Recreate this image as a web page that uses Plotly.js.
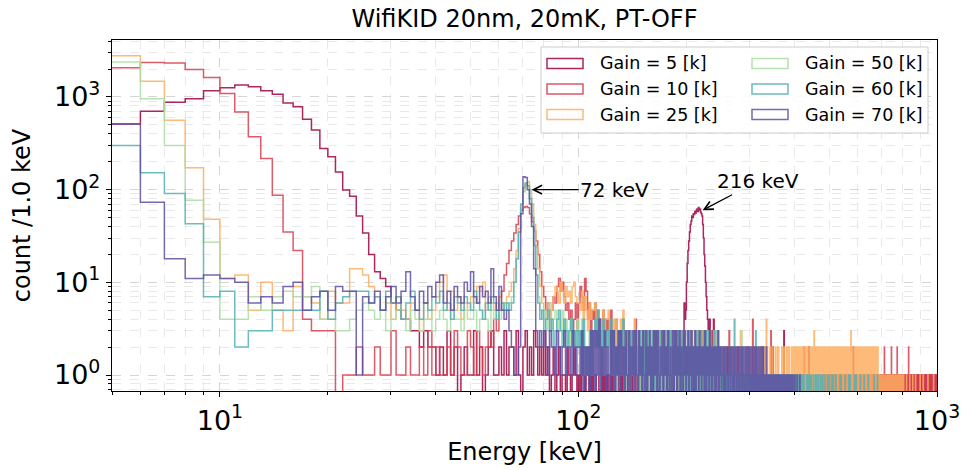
<!DOCTYPE html>
<html><head><meta charset="utf-8">
<script src="https://cdn.plot.ly/plotly-3.0.1.min.js"></script>
<style>html,body{margin:0;padding:0;background:#fff;} #chart{width:966px;height:470px;}</style>
</head><body><div id="chart"></div>
<script>
// ---------------- data (histogram counts, 1 keV bins starting at 5 keV) ----------------
const binStart = 5;
const binWidth = 1;
const seriesNames = ['Gain = 5 [k]', 'Gain = 10 [k]', 'Gain = 25 [k]', 'Gain = 50 [k]', 'Gain = 60 [k]', 'Gain = 70 [k]'];
const seriesColors = ['#9e0142', '#d53e4f', '#fdae61', '#abdda4', '#54b0b4', '#5e4fa2'];

// Gain 5: bins 5..239 as numbers, then one digit per bin
const g5Head = [
  510, 700, 875, 955, 1170, 1260, 1350, 1290, 1170, 1070,
  860, 785, 575, 440, 278, 226, 155, 99, 85, 52,
  34, 20, 13, 11, 9, 6, 5, 4, 4, 3,
  3, 2, 3, 2, 2, 1, 2, 1, 3, 1,
  2, 0, 1, 2, 1, 1, 3, 1, 2, 0,
  1, 2, 3, 1, 1, 2, 1, 3, 1, 2,
  2, 1, 3, 1, 0, 2, 3, 1, 2, 1,
  3, 2, 1, 2, 1, 3, 1, 2, 0, 1,
  2, 0, 1, 2, 0, 1, 1, 0, 2, 1,
  0, 1, 2, 1, 0, 1, 0, 2, 1, 0,
  1, 1, 0, 2, 0, 1, 1, 0, 0, 1,
  2, 0, 1, 0, 1, 0, 1, 1, 0, 2,
  0, 1, 0, 0, 1, 1, 0, 1, 0, 0,
  2, 1, 0, 1, 0, 0, 1, 0, 1, 2,
  0, 0, 1, 0, 1, 1, 0, 0, 1, 0,
  1, 3, 0, 1, 0, 0, 1, 0, 2, 0,
  1, 0, 0, 1, 1, 0, 1, 0, 0, 2,
  1, 0, 1, 0, 0, 1, 0, 2, 0, 1,
  0, 3, 1, 0, 2, 1, 0, 2, 1, 3,
  2, 3, 6, 4, 5, 10, 16, 22, 28, 35,
  42, 46, 52, 50, 55, 54, 58, 56, 60, 62,
  58, 64, 60, 62, 57, 55, 52, 42, 30, 20,
  15, 10, 7, 5, 4, 3, 2, 4, 1, 2,
  3, 1, 0, 4, 2
];
const g5Tail = `
1010020100 0100101001 0201000100 1001010020 0100100101 0010201000 1001000102 0100010010
1000200100 0101000010 0010010200 1000100010 0100001001 0010300100 1000010010 0100100001
0010001000 1000100100 0001001000 0100000102 0010010000 1000100010 0001000100 0100010000
1000001001 0010000100 0001001000 1000010000 0010000101 0000100010 0100001000 0001000010
1000100000 0010000100 0000200010 1000001000 0010000001 0000100100 0100000010 0001000100
1000010000 0000100001 0100000100 0010000010 1000100000 0000010010 0100100001 0010011000
1001000101 0100110010 1010001001 0011010100 1000101101 0110100010 1010110100 0101001011
1100101010 0101101001 1010010110 0110101001 1011010110 0101101011 1101010110 1011011010
0110110101 1011010111 1101101011 0111010110 1011101101 0110111011 1101011101 1011110110
0111011101 1101110111 1011111011 1110111101`;

// Gain 10: bins 5..109 as numbers, then one digit per bin from 110 keV
const g10Head = [
  2065, 2360, 2330, 1975, 1620, 1090, 690, 372, 217, 87,
  35, 22, 4, 3, 3, 3, 0, 1, 1, 2,
  1, 1, 2, 1, 1, 3, 1, 1, 2, 1,
  1, 2, 1, 3, 1, 2, 1, 1, 2, 1,
  3, 2, 1, 1, 3, 2, 1, 3, 2, 1,
  2, 3, 2, 4, 3, 7, 8, 12, 16, 22,
  28, 34, 42, 52, 60, 64, 66, 64, 55, 45,
  36, 28, 20, 13, 9, 7, 5, 6, 4, 5,
  7, 6, 9, 11, 8, 10, 7, 5, 6, 4,
  5, 3, 4, 6, 3, 6, 9, 7, 5, 11,
  8, 4, 6, 3, 5
];
const g10Tail = `
4635243524 3425132413 2314231302 1321402312 2130213021 1203120312 0213021203 1302120213
2031203120 1203021302 0213120312 1302103120 2130210213 1021302120
0110100201 1003020100 0101001021 1000101010 0102010001 1010004201 0100101010 1001010002
0101001010 1000301020 0101000101 1010010010 0100201001 1001000101 0010110010 1001001000
0101000101 1000102001 0100100100 1001010001 0010001010 1000100101 0100010010 1001001000
0100100010 1000010101 0010100010 1001000100 0100010001 1000100100 0010010010 1001000101
0100100010 1000010100 0101000010 1000100101 0010010010 1001001000 0100100101 1010010010
0100101001 1001010010 0101001001 1010100101 0101010010 1010101001 0102010100 1010100101
0101010010 1001012001 0101010100 1010100101 0100201010 1010101001 0101010100 1001010101
0100101010 1010100101 0102010010 1010101001 0101010101 1001010010 0101001010 1010100101
0100101010 1010101001 0101010100 1001010101 0110101010 1010100101 0101010100 1001010101
0101001010 1010100101 0101010101`;

// Gain 25
const g25Head = [
  2780, 1480, 560, 172, 48, 11, 12, 5, 10, 5,
  3, 9, 7, 6, 4, 8, 6, 6, 14, 14,
  12, 9, 7, 5, 6, 4, 7, 5, 4, 6,
  5, 3, 6, 4, 5, 7, 10, 12, 5, 8,
  5, 7, 4, 6, 5, 7, 6, 9, 8, 10,
  5, 7, 6, 5, 6, 7, 5, 6, 7, 8,
  10, 14, 22, 38, 62, 95, 115, 122, 100, 70,
  42, 24, 14, 9, 6, 5, 4, 6, 3, 5,
  7, 9, 8, 6, 10, 8, 6, 9, 7, 8,
  6, 9, 10, 7, 6, 6, 5, 8, 4, 7,
  5, 3, 6, 4, 5
];
const g25Tail = `
5635243524 4523342413 3425132312 2314231302 3213021312 2312031213 1312302120 2301213021
1321302120 2130213012 1203121302 2130120213 1203212031 2120130212
0120101210 1012010201 2101021010 1203010201 0102101210 1020101021 0101210102 1012010101
2010402101 0121010201 1010201012 0201010102 1012201010 2101210201 0102012101 1210121020
1210201210 2012101201 0121020121 1020121012 2101320121 0102012120 1210121020 1201210121
0102012210 1210120121 0201210102 1012012101 0121201020 1210121012 2010121201 0121020121
1020131012 0121201210 1012102101 0201210121 1010201210 0121012201 1020121012 0121012102
1012201210 0121012101 1020101210 0101210010 1001010100 0100100010 1000100100 0010001000
1000010001 0001000100 0100000010 0001000000 1000001000 0000100000 0010000001 0000000100
0000000000 0010000000 0000000001 0000000000 0000010000 0000000000 0100000000 0000000000
0000000100 0000000000 0000010000 0000000000 0000000000 0001000000 0000000000 0000000000
0000000010 0000000000 0000000000`;

// Gain 50
const g50Head = [
  2390, 960, 300, 77, 27, 4, 4, 7, 5, 7,
  8, 7, 7, 9, 4, 4, 3, 3, 4, 5,
  6, 5, 4, 5, 3, 4, 5, 4, 3, 5,
  4, 3, 4, 5, 3, 4, 5, 4, 3, 5,
  4, 4, 3, 5, 4, 4, 5, 3, 4, 5,
  4, 3, 5, 4, 5, 4, 5, 6, 5, 6,
  7, 10, 18, 35, 68, 100, 112, 108, 82, 50,
  26, 12, 7, 5, 4, 5, 3, 4, 6, 3,
  4, 5, 3, 4, 3, 5, 2, 4, 3, 2,
  4, 3, 2, 3, 4, 3, 2, 4, 3, 1,
  2, 2, 3, 1, 2
];
const g50Tail = `
3243132312 2312313021 2132301203 1320130210 2301030201 0310201302 1020301020 0301020103
1020301001 0103010200 1002030010 0200102003 1002000200 0200301002
0010010000 1000100100 0010000010 1000030000 0001000100 0000100000 0100000010 0000100000
0000000100 0010000000 0000010000 0000000000 1000000000 0000000100 0000000000 0000000000
0000100000 0000000000 0000000000 0000000000 0001000000`;

// Gain 60
const g60Head = [
  300, 152, 91, 43, 7, 8, 2, 3, 3, 5,
  5, 5, 5, 5, 8, 4, 6, 7, 8, 8,
  8, 6, 7, 5, 8, 6, 7, 4, 6, 8,
  5, 4, 6, 5, 7, 6, 8, 5, 6, 4,
  7, 6, 5, 7, 6, 5, 8, 6, 5, 4,
  6, 5, 7, 6, 4, 5, 6, 5, 6, 5,
  6, 10, 18, 35, 70, 105, 118, 110, 80, 50,
  25, 12, 6, 4, 5, 3, 4, 5, 3, 4,
  2, 3, 4, 5, 3, 2, 4, 3, 2, 3,
  4, 2, 3, 2, 3, 2, 3, 1, 4, 2,
  1, 2, 1, 3, 1
];
const g60Tail = `
3425231423 2314230213 1324021312 3120312031 2031203120 1302130213 2103120312 0312031203
1203120312 2031203120 1203120213 0213021302 1302120213 2120312021
1010201010 0101021010 1040101010 0101020101 1010101020 0101010101 1030101010 0101010201
1010100101 0101010010 1001010100 0100101001 1001000100 0100100010 0010010001 1000100100
0010000100 0100010000 0001000010 0100001000 0001000001 0100000100 0000100000 1000000100
0000010000 0100000001 0000100000 0010000000 0000001000 1000000000 0000100000 0000000100
0010000000 0000000010 0000100000 0000000000 0100000000 0000001000 0000000000 0001000000
0000000000 0000000100 0000000000 0010000000`;

// Gain 70
const g70Head = [
  510, 73, 18, 11, 12, 11, 10, 6, 7, 6,
  9, 10, 5, 7, 8, 5, 9, 8, 8, 1,
  7, 6, 8, 5, 7, 9, 6, 8, 13, 7,
  5, 8, 6, 9, 7, 10, 12, 6, 8, 5,
  9, 7, 6, 10, 8, 13, 7, 6, 9, 7,
  8, 6, 14, 7, 5, 9, 5, 4, 5, 3,
  2, 1, 1, 2, 55, 138, 135, 100, 70, 40,
  14, 3, 2, 3, 2, 3, 2, 1, 3, 2,
  2, 1, 3, 2, 1, 2, 3, 1, 2, 2,
  1, 3, 2, 1, 2, 2, 1, 3, 0, 2,
  1, 2, 0, 3, 1
];
const g70Tail = `
3031402130 2103130213 0312031030 2130310312 0310302130 2031303102 1303120310 2103031302
1302103130 2130213020 1302120312 0212031021 2031202120 1202130212
0212012021 2021202120 1202120212 0212021021 2021202120 1202120212 0212021202 1202120210
1010201010 0101010010 1001010100 0100101001 1000100100 0100010001 0010001000 0100000100
0000100000`;

// tick labels and peak annotations
const xTickVals = [10, 100, 1000];
const xTickText = ['10<sup>1</sup>', '10<sup>2</sup>', '10<sup>3</sup>'];
const yTickVals = [1, 10, 100, 1000];
const yTickText = ['10<sup>0</sup>', '10<sup>1</sup>', '10<sup>2</sup>', '10<sup>3</sup>'];
const peakLabels = ['72 keV', '216 keV'];
const peakEnergy = [74, 222];
const peakCount = [100, 60];

// ---------------- drawing ----------------
function digits(s) { return s.replace(/\s+/g, '').split('').map(Number); }
const allCounts = [
  g5Head.concat(digits(g5Tail)),
  g10Head.concat(digits(g10Tail)),
  g25Head.concat(digits(g25Tail)),
  g50Head.concat(digits(g50Tail)),
  g60Head.concat(digits(g60Tail)),
  g70Head.concat(digits(g70Tail))
];
// empty bins: drawn far below the axis, as a clipped log scale does
const EMPTY = 1e-3;
function stepXY(c) {
  const x = [], y = [];
  c.forEach((v, i) => { x.push(binStart + i * binWidth); y.push(v > 0 ? v : EMPTY); });
  const last = c[c.length - 1];
  x.push(binStart + c.length * binWidth); y.push(last > 0 ? last : EMPTY);
  return { x, y };
}
const traces = allCounts.map((c, i) => {
  const s = stepXY(c);
  return {
    type: 'scatter', mode: 'lines', x: s.x, y: s.y, name: seriesNames[i],
    line: { shape: 'hv', color: seriesColors[i], width: 1.5, simplify: false },
    opacity: 0.85, showlegend: false, hoverinfo: 'skip'
  };
});

const L = 112, R = 937, T = 40, B = 391, W = 966, H = 470;
const px = v => (v - L) / (R - L);
const py = v => (B - v) / (B - T);
const font = 'DejaVu Sans, Verdana, sans-serif';

const shapes = [];
const annotations = [];
// legend frame
shapes.push({ type: 'rect', xref: 'paper', yref: 'paper', x0: px(541), x1: px(928), y0: py(133), y1: py(47),
  line: { color: '#cccccc', width: 1 }, fillcolor: 'rgba(255,255,255,0.85)', layer: 'above' });
const colX = [547, 752], rowY = [63.5, 89, 114.5];
seriesNames.forEach((n, i) => {
  const cx = colX[Math.floor(i / 3)], cy = rowY[i % 3];
  shapes.push({ type: 'rect', xref: 'paper', yref: 'paper', x0: px(cx), x1: px(cx + 36), y0: py(cy + 5), y1: py(cy - 5),
    line: { color: seriesColors[i], width: 1.5 }, opacity: 0.85, fillcolor: 'rgba(0,0,0,0)', layer: 'above' });
  annotations.push({ xref: 'paper', yref: 'paper', x: px(cx + 51), y: py(cy), xanchor: 'left', yanchor: 'middle',
    text: n, showarrow: false, font: { family: font, size: 17.5, color: '#000' } });
});
// peak labels
const peakOffsets = [[83, 0], [55, -29]];
peakLabels.forEach((t, i) => {
  annotations.push({ x: Math.log10(peakEnergy[i]), y: Math.log10(peakCount[i]), xref: 'x', yref: 'y',
    text: t, showarrow: true, arrowhead: 5, arrowsize: 1.3, arrowwidth: 1.3, arrowcolor: '#000',
    ax: peakOffsets[i][0], ay: peakOffsets[i][1], font: { family: font, size: 20, color: '#000' } });
});

const gridMajor = '#d0d0d0', gridMinor = '#e4e4e4';
const layout = {
  width: W, height: H, paper_bgcolor: '#fff', plot_bgcolor: '#fff',
  margin: { l: L, r: W - R, t: T, b: H - B, pad: 0 },
  font: { family: font, color: '#000' },
  title: { text: 'WifiKID 20nm, 20mK, PT-OFF', font: { family: font, size: 24, color: '#000' },
    x: 0.5, xref: 'paper', xanchor: 'center', y: 1 - 19 / H, yref: 'container', yanchor: 'middle' },
  xaxis: {
    type: 'log', range: [Math.log10(5), 3], tickvals: xTickVals, ticktext: xTickText,
    ticks: 'outside', ticklen: 5, tickwidth: 1, tickcolor: '#000',
    tickfont: { family: font, size: 27, color: '#000' },
    showline: true, linecolor: '#000', linewidth: 1.2, mirror: true,
    showgrid: true, gridcolor: gridMajor, griddash: 'dash', gridwidth: 0.8, zeroline: false,
    minor: { dtick: 'D1', ticks: 'outside', ticklen: 3, tickcolor: '#000', showgrid: true, gridcolor: gridMinor, griddash: 'dash', gridwidth: 0.8 },
    title: { text: 'Energy [keV]', font: { family: font, size: 24, color: '#000' }, standoff: 8 }
  },
  yaxis: {
    type: 'log', range: [-0.1727, 3.615], tickvals: yTickVals, ticktext: yTickText,
    ticks: 'outside', ticklen: 5, tickwidth: 1, tickcolor: '#000',
    tickfont: { family: font, size: 27, color: '#000' },
    showline: true, linecolor: '#000', linewidth: 1.2, mirror: true,
    showgrid: true, gridcolor: gridMajor, griddash: 'dash', gridwidth: 0.8, zeroline: false,
    minor: { dtick: 'D1', ticks: 'outside', ticklen: 3, tickcolor: '#000', showgrid: true, gridcolor: gridMinor, griddash: 'dash', gridwidth: 0.8 },
    title: { text: 'count /1.0 keV', font: { family: font, size: 24, color: '#000' }, standoff: 16 }
  },
  shapes, annotations, showlegend: false
};
Plotly.newPlot('chart', traces, layout, { staticPlot: true, displayModeBar: false });
</script></body></html>
